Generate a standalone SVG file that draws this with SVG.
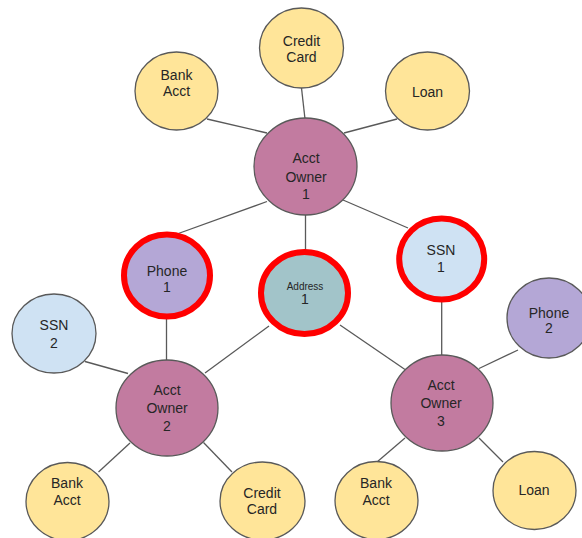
<svg xmlns="http://www.w3.org/2000/svg" width="582" height="538" viewBox="0 0 582 538">
<style>
.n{stroke:#595959;stroke-width:1.3}
.y{fill:#ffe599}.m{fill:#c27ba0}.p{fill:#b4a7d6}.b{fill:#cfe2f3}.t{fill:#a2c4c9}
.hl{stroke:#ff0000;stroke-width:6}
text{font-family:"Liberation Sans",Arial,sans-serif;font-size:14px;fill:#262626;text-anchor:middle}
.s{font-size:10px}
#edges line{stroke:#595959;stroke-width:1.3}
</style>
<rect width="582" height="538" fill="#fff"/>
<g id="edges">
<line x1="207" y1="119" x2="267" y2="133"/>
<line x1="301.5" y1="88" x2="305" y2="119"/>
<line x1="397" y1="119" x2="344" y2="133"/>
<line x1="267" y1="201.5" x2="177" y2="234"/>
<line x1="305.5" y1="215" x2="305.5" y2="250"/>
<line x1="343" y1="200" x2="408" y2="228"/>
<line x1="166.5" y1="317" x2="166.5" y2="360"/>
<line x1="85" y1="361.5" x2="128" y2="373.5"/>
<line x1="269" y1="326" x2="205" y2="373"/>
<line x1="340" y1="325" x2="405" y2="369.5"/>
<line x1="441.7" y1="302" x2="441.7" y2="355"/>
<line x1="518" y1="350" x2="479" y2="368.5"/>
<line x1="130" y1="443" x2="98.5" y2="472"/>
<line x1="203.5" y1="442.5" x2="232" y2="472"/>
<line x1="405" y1="438" x2="377" y2="462"/>
<line x1="479" y1="438" x2="503" y2="462"/>
</g>
<g id="bank1"><ellipse class="n y" cx="176.5" cy="91" rx="41.5" ry="39"/><text x="176.5" y="80">Bank</text><text x="176.5" y="96">Acct</text></g>
<g id="credit1"><ellipse class="n y" cx="301.5" cy="48" rx="42" ry="40"/><text x="301.5" y="46">Credit</text><text x="301.5" y="62">Card</text></g>
<g id="loan1"><ellipse class="n y" cx="427.5" cy="91" rx="42" ry="39"/><text x="427.5" y="97">Loan</text></g>
<g id="owner1"><ellipse class="n m" cx="305.5" cy="166.5" rx="51.5" ry="48.5"/><text x="306" y="163">Acct</text><text x="306" y="182">Owner</text><text x="306" y="199">1</text></g>
<g id="phone1"><ellipse class="p hl" cx="167" cy="275.5" rx="43" ry="41"/><text x="167" y="275.5">Phone</text><text x="167" y="292">1</text></g>
<g id="address1"><ellipse class="t hl" cx="304.5" cy="293" rx="43.5" ry="41"/><text class="s" x="305" y="289.5">Address</text><text x="305" y="304">1</text></g>
<g id="ssn1"><ellipse class="b hl" cx="441.7" cy="259" rx="42.5" ry="40.5"/><text x="441" y="255">SSN</text><text x="441" y="272">1</text></g>
<g id="ssn2"><ellipse class="n b" cx="54" cy="333.5" rx="42" ry="39.5"/><text x="54" y="330">SSN</text><text x="54" y="348">2</text></g>
<g id="phone2"><ellipse class="n p" cx="549" cy="318" rx="42" ry="40"/><text x="549" y="318">Phone</text><text x="549" y="333">2</text></g>
<g id="owner2"><ellipse class="n m" cx="167" cy="408" rx="51" ry="48"/><text x="167" y="395">Acct</text><text x="167" y="413">Owner</text><text x="167" y="431">2</text></g>
<g id="owner3"><ellipse class="n m" cx="442" cy="403" rx="51" ry="48"/><text x="441" y="390">Acct</text><text x="441" y="408">Owner</text><text x="441" y="426">3</text></g>
<g id="bank2"><ellipse class="n y" cx="67.5" cy="501.5" rx="41.5" ry="39"/><text x="67" y="488">Bank</text><text x="67" y="505">Acct</text></g>
<g id="credit2"><ellipse class="n y" cx="262.5" cy="501" rx="42.5" ry="39"/><text x="262" y="498">Credit</text><text x="262" y="514">Card</text></g>
<g id="bank3"><ellipse class="n y" cx="376.5" cy="500.5" rx="41.5" ry="39"/><text x="376" y="488">Bank</text><text x="376" y="505">Acct</text></g>
<g id="loan2"><ellipse class="n y" cx="534.5" cy="490.5" rx="41.5" ry="39"/><text x="534" y="495">Loan</text></g>
</svg>
